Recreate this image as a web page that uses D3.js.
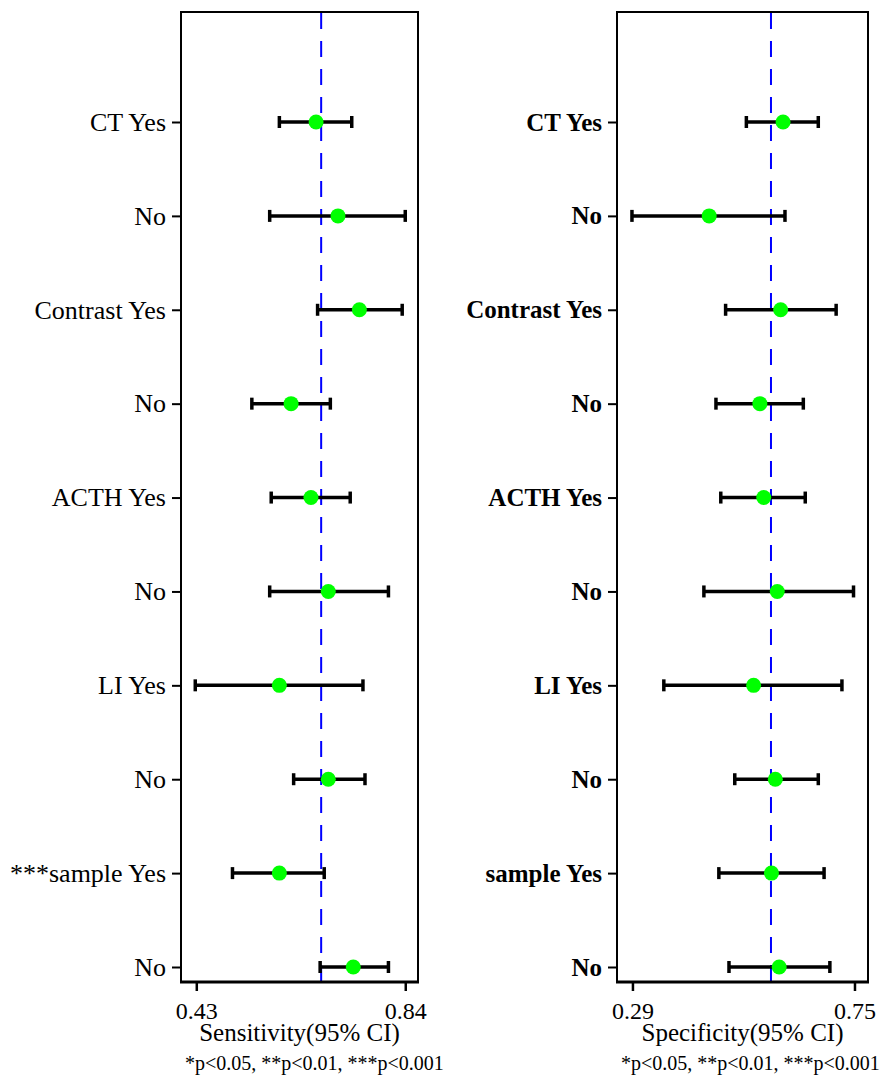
<!DOCTYPE html>
<html>
<head>
<meta charset="utf-8">
<script src="https://cdn.jsdelivr.net/npm/d3@7"></script>
<style>
  html, body { margin: 0; padding: 0; background: #fff; }
  svg { display: block; }
  text { font-family: "Liberation Serif", "Times New Roman", serif; fill: #000; }
</style>
</head>
<body>
<svg id="chart" width="883" height="1080"></svg>
<script>
// Subgroup rows, top to bottom
const rowKeys = ["CT Yes", "CT No", "Contrast Yes", "Contrast No", "ACTH Yes", "ACTH No",
                 "LI Yes", "LI No", "sample Yes", "sample No"];
const sensLabels = ["CT Yes", "No", "Contrast Yes", "No", "ACTH Yes", "No",
                    "LI Yes", "No", "***sample Yes", "No"];
const specLabels = ["CT Yes", "No", "Contrast Yes", "No", "ACTH Yes", "No",
                    "LI Yes", "No", "sample Yes", "No"];

// Sensitivity estimates with 95% CI
const sensEst  = [0.665, 0.708, 0.750, 0.616, 0.655, 0.689, 0.593, 0.689, 0.593, 0.738];
const sensLow  = [0.593, 0.574, 0.668, 0.539, 0.577, 0.574, 0.428, 0.621, 0.501, 0.673];
const sensHigh = [0.735, 0.840, 0.834, 0.693, 0.732, 0.807, 0.757, 0.761, 0.681, 0.807];
const sensPooled = 0.675;
const sensTicks = [0.43, 0.84];

// Specificity estimates with 95% CI
const specEst  = [0.602, 0.449, 0.597, 0.554, 0.562, 0.590, 0.541, 0.586, 0.578, 0.594];
const specLow  = [0.526, 0.289, 0.483, 0.463, 0.473, 0.438, 0.355, 0.502, 0.469, 0.490];
const specHigh = [0.675, 0.606, 0.712, 0.644, 0.648, 0.748, 0.724, 0.675, 0.687, 0.699];
const specPooled = 0.577;
const specTicks = [0.29, 0.75];

const footnote = "*p<0.05, **p<0.01, ***p<0.001";

const svg = d3.select("#chart");
const plotTop = 12, plotBottom = 982;

function drawPanel(opt) {
  const g = svg.append("g");
  const x = d3.scaleLinear().domain(opt.domain).range([opt.left, opt.right]);
  const y = d3.scalePoint().domain(rowKeys).range([122, 967]);

  // frame
  g.append("rect")
    .attr("x", opt.left).attr("y", plotTop)
    .attr("width", opt.right - opt.left).attr("height", plotBottom - plotTop)
    .attr("fill", "none").attr("stroke", "#000").attr("stroke-width", 2);

  // pooled estimate reference line
  g.append("line")
    .attr("x1", x(opt.pooled)).attr("x2", x(opt.pooled))
    .attr("y1", plotTop + 1).attr("y2", plotBottom)
    .attr("stroke", "#0000ff").attr("stroke-width", 2)
    .attr("stroke-dasharray", "16,12");

  // y axis with subgroup labels
  const yAxis = d3.axisLeft(y).tickSize(9).tickPadding(6).tickSizeOuter(0)
    .tickFormat((d, i) => opt.labels[i]);
  const ya = g.append("g").attr("transform", `translate(${opt.left},0)`).call(yAxis);
  ya.select(".domain").remove();
  ya.selectAll(".tick line").attr("stroke", "#000").attr("stroke-width", 2);
  ya.selectAll(".tick text")
    .style("font-size", opt.labelSize)
    .style("font-weight", opt.bold ? "bold" : "normal")
    .attr("fill", "#000");

  // x axis
  const xAxis = d3.axisBottom(x).tickValues(opt.ticks).tickSize(9).tickPadding(11)
    .tickSizeOuter(0).tickFormat(d3.format(".2f"));
  const xa = g.append("g").attr("transform", `translate(0,${plotBottom})`).call(xAxis);
  xa.select(".domain").remove();
  xa.selectAll(".tick line").attr("stroke", "#000").attr("stroke-width", 2.5);
  xa.selectAll(".tick text").style("font-size", "24px").attr("fill", "#000");
  g.append("line")
    .attr("x1", opt.left - 1).attr("x2", opt.right + 1)
    .attr("y1", plotBottom).attr("y2", plotBottom)
    .attr("stroke", "#000").attr("stroke-width", 3);

  // axis title
  g.append("text")
    .attr("x", (opt.left + opt.right) / 2).attr("y", 1041)
    .attr("text-anchor", "middle")
    .style("font-size", "25px")
    .text(opt.title);

  // significance footnote
  g.append("text")
    .attr("x", opt.left + 4).attr("y", 1070)
    .style("font-size", "20px")
    .text(footnote);

  // confidence intervals
  const rows = rowKeys.map((k, i) => ({ k, est: opt.est[i], lo: opt.low[i], hi: opt.high[i] }));
  const ci = g.append("g").selectAll("g").data(rows).join("g");
  ci.append("line")
    .attr("x1", d => x(d.lo)).attr("x2", d => x(d.hi))
    .attr("y1", d => y(d.k)).attr("y2", d => y(d.k))
    .attr("stroke", "#000").attr("stroke-width", 3.5);
  ci.selectAll(".cap").data(d => [[d.lo, d.k], [d.hi, d.k]]).join("line")
    .attr("class", "cap")
    .attr("x1", d => x(d[0])).attr("x2", d => x(d[0]))
    .attr("y1", d => y(d[1]) - 6).attr("y2", d => y(d[1]) + 6)
    .attr("stroke", "#000").attr("stroke-width", 3.5);

  // point estimates
  g.append("g").selectAll("circle").data(rows).join("circle")
    .attr("cx", d => x(d.est)).attr("cy", d => y(d.k))
    .attr("r", 7.5)
    .attr("fill", "#00ff00");
}

drawPanel({
  left: 181, right: 418, domain: [0.40, 0.865],
  est: sensEst, low: sensLow, high: sensHigh, pooled: sensPooled,
  ticks: sensTicks, labels: sensLabels, bold: false, labelSize: "26px",
  title: "Sensitivity(95% CI)"
});

drawPanel({
  left: 617, right: 868, domain: [0.258, 0.778],
  est: specEst, low: specLow, high: specHigh, pooled: specPooled,
  ticks: specTicks, labels: specLabels, bold: true, labelSize: "25px",
  title: "Specificity(95% CI)"
});
</script>
</body>
</html>
